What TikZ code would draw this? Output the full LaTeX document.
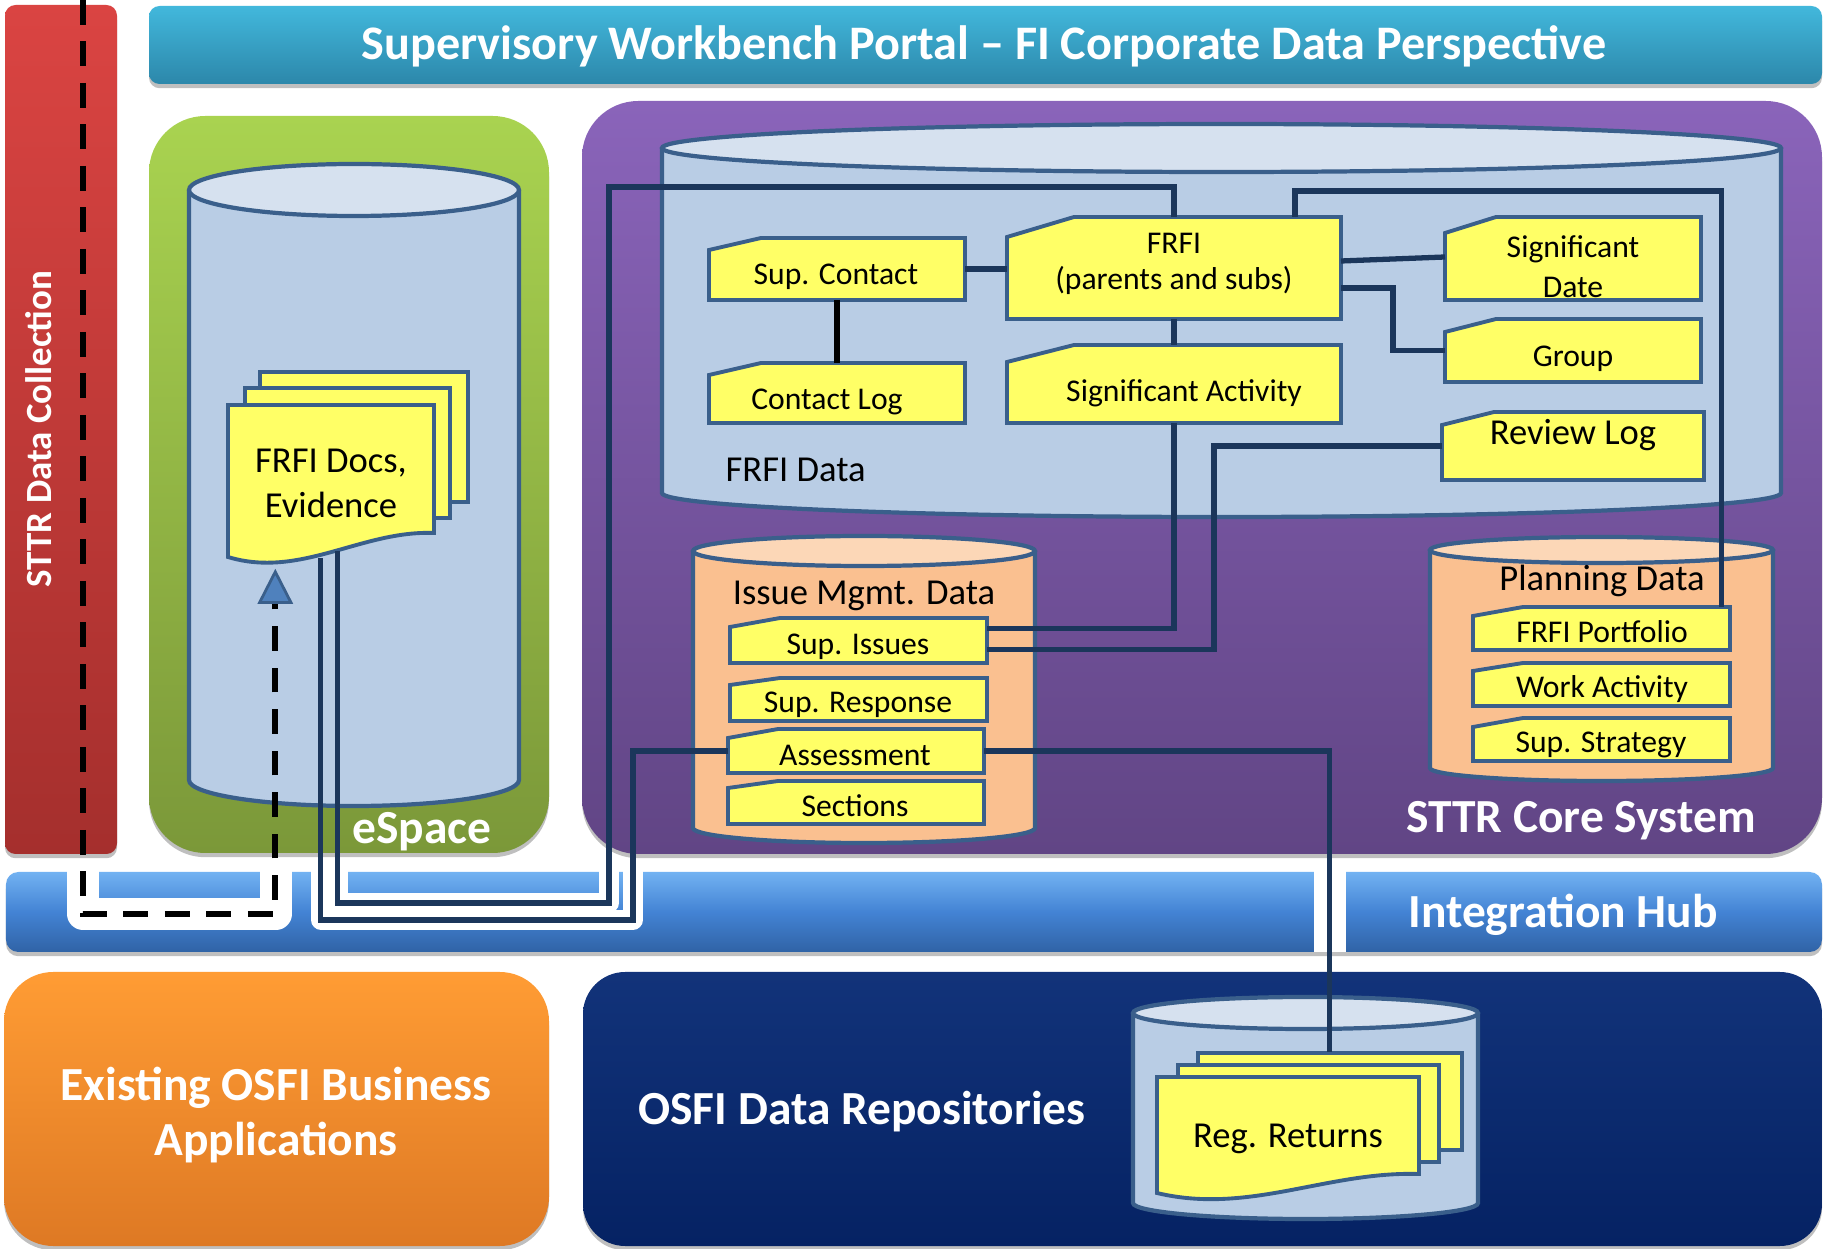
\documentclass[tikz,border=0pt]{standalone}
\usepackage{fontspec}
\setmainfont{Carlito}
\usepackage{tikz}
\usetikzlibrary{calc}
\usetikzlibrary{arrows.meta}
\usetikzlibrary{fit}
\usetikzlibrary{shadows}

\definecolor{rougeHaut}{HTML}{DA4442}
\definecolor{rougeBas}{HTML}{A52F2D}
\definecolor{cyanHaut}{HTML}{42B8DC}
\definecolor{cyanBas}{HTML}{2C87AA}
\definecolor{vertHaut}{HTML}{A9D350}
\definecolor{vertBas}{HTML}{7B9839}
\definecolor{violetHaut}{HTML}{8A64BA}
\definecolor{violetBas}{HTML}{614585}
\definecolor{hubHaut}{HTML}{72B2F2}
\definecolor{hubMilieu}{HTML}{4383D4}
\definecolor{hubBas}{HTML}{3063A6}
\definecolor{orangeHaut}{HTML}{FF9C34}
\definecolor{orangeBas}{HTML}{DE7924}
\definecolor{marineHaut}{HTML}{12337A}
\definecolor{marineBas}{HTML}{052263}
\definecolor{bleuCyl}{HTML}{B9CDE5}
\definecolor{bleuCylHaut}{HTML}{D6E1EF}
\definecolor{bordCyl}{HTML}{3A5F8B}
\definecolor{peche}{HTML}{FAC090}
\definecolor{pecheHaut}{HTML}{FCD7B7}
\definecolor{jaune}{HTML}{FFFF66}
\definecolor{lienCol}{HTML}{1B365B}
\definecolor{pointeBleu}{HTML}{4F81BD}

\tikzstyle{ombre}      =[drop shadow={shadow xshift=0pt,shadow yshift=-1.2pt,opacity=.25,fill=black}]
\tikzstyle{bordcyl}    =[draw=bordCyl, line width=1.2pt]
\tikzstyle{fiche}      =[draw=bordCyl, line width=1.1pt, fill=jaune]
\tikzstyle{lien}       =[draw=lienCol, line width=1.5pt]
\tikzstyle{pointille}  =[black, line width=1.6pt, dash pattern=on 7pt off 4.8pt]
\tikzstyle{haloFin}    =[white, line width=5.6pt, line join=round]
\tikzstyle{haloLarge}  =[white, line width=9pt, line join=round]
\tikzstyle{grandtexte} =[text=white, inner sep=0pt, font=\fontsize{13.5}{15.9}\selectfont\bfseries]
\tikzstyle{moyentexte} =[text=black, inner sep=0pt, font=\fontsize{10.4}{12.8}\selectfont]
\tikzstyle{petittexte} =[text=black, inner sep=0pt, font=\fontsize{9}{10.2}\selectfont]

%cylindre : x gauche, x droit, y haut, y bas, demi-hauteur de l'ellipse, remplissage, dessus
\newcommand{\cylindre}[7]{%
  \fill[#6] (#1,#3) -- (#1,#4) arc[start angle=180,end angle=0,x radius={(#2-#1)/2},y radius=#5] -- (#2,#3) -- cycle;
  \draw[bordcyl] (#1,#3) -- (#1,#4) arc[start angle=180,end angle=0,x radius={(#2-#1)/2},y radius=#5] -- (#2,#3);
  \draw[bordcyl,fill=#7] ({(#1+#2)/2},#3) ellipse [x radius={(#2-#1)/2},y radius=#5];
}

%fiche : nom, x gauche, y haut, x droit, y bas, hauteur du biais, largeur du biais
\newcommand{\fiche}[7]{%
  \draw[fiche] (#2,#3+#6) -- (#2+#7,#3) -- (#4,#3) -- (#4,#5) -- (#2,#5) -- cycle;
  \node[fit={(#2,#3) (#4,#5)}, inner sep=0pt, outer sep=0pt] (#1) {};
}

%feuille ondulée : x gauche, y haut, x droit, y bas droit, y bas gauche
\newcommand{\feuille}[5]{%
  \draw[fiche] (#1,#2) -- (#3,#2) -- (#3,#4) .. controls ({#3-0.35*(#3-#1)},{#4-3}) and ({#1+0.35*(#3-#1)},{#5+22}) .. (#1,#5) -- cycle;
}

\begin{document}
\begin{tikzpicture}[x=0.01cm,y=-0.01cm]

\fill[white] (0,0) rectangle (1826,1249);
\useasboundingbox (0,0) rectangle (1826,1249);

%%%%%%%%%%%%%%%%%%%%%%%%
%Blocs principaux
%%%%%%%%%%%%%%%%%%%%%%%%

\shade[ombre, top color=rougeHaut, bottom color=rougeBas, rounded corners=3pt] (5,5) rectangle (117,854);
\node[grandtexte, font=\fontsize{10.5}{12}\selectfont\bfseries, rotate=90] (collecte) at (39,429) {STTR Data Collection};

\shade[ombre, top color=cyanHaut, bottom color=cyanBas, rounded corners=3pt] (149,6) rectangle (1822,84);
\node[grandtexte, anchor=base, font=\fontsize{13.7}{16}\selectfont\bfseries] (portail) at (984,60) {Supervisory Workbench Portal – FI Corporate Data Perspective};

\shade[ombre, top color=vertHaut, bottom color=vertBas, rounded corners=16pt] (149,116) rectangle (549,853);
\shade[ombre, top color=violetHaut, bottom color=violetBas, rounded corners=16pt] (582,101) rectangle (1822,854);

%%%%%%%%%%%%%%%%%%%%%%%%
%eSpace
%%%%%%%%%%%%%%%%%%%%%%%%

\cylindre{189}{519}{190}{780}{26}{bleuCyl}{bleuCylHaut}
\draw[fiche] (260,372) rectangle (468,502);
\draw[fiche] (245,388) rectangle (450,518);
\feuille{228}{405}{434}{533}{557}
\node[fit={(228,372) (468,565)}, inner sep=0pt] (docs) {};
\node[moyentexte, align=center] (docstxt) at (331,483) {FRFI Docs,\\Evidence};
\node[grandtexte, anchor=base] (espace) at (422,844) {eSpace};

%%%%%%%%%%%%%%%%%%%%%%%%
%STTR Core System
%%%%%%%%%%%%%%%%%%%%%%%%

\cylindre{662}{1781}{148}{493}{24}{bleuCyl}{bleuCylHaut}
\node[moyentexte, anchor=base west] (frfidata) at (725,482) {FRFI Data};

\fiche{supc}{709}{238}{965}{300}{12}{52}
\fiche{clog}{709}{363}{965}{423}{12}{52}
\fiche{frfi}{1007}{217}{1341}{319}{20}{67}
\fiche{sact}{1007}{345}{1341}{423}{17}{67}
\fiche{sdate}{1445}{217}{1701}{300}{16}{51}
\fiche{group}{1445}{319}{1701}{382}{13}{51}
\fiche{rlog}{1442}{412}{1704}{480}{13}{52}

\node[petittexte, anchor=base] at (836,285) {Sup. Contact};
\node[petittexte, anchor=base] at (827,410) {Contact Log};
\node[petittexte, align=center] at (1174,264) {FRFI\\(parents and subs)};
\node[petittexte, anchor=base] at (1184,402) {Significant Activity};
\node[petittexte, align=center, font=\fontsize{9}{11.3}\selectfont] at (1573,267) {Significant\\Date};
\node[petittexte, anchor=base] at (1573,367) {Group};
\node[moyentexte, anchor=base] at (1573,445) {Review Log};

\cylindre{693}{1035}{551}{828}{15}{peche}{pecheHaut}
\node[moyentexte, anchor=base] (issue) at (864,605) {Issue Mgmt. Data};
\fiche{sissue}{730}{618}{987}{663}{9}{50}
\fiche{sresp}{730}{678}{987}{721}{7}{50}
\fiche{assess}{728}{729}{984}{773}{9}{50}
\fiche{sect}{728}{781}{984}{824}{7}{50}
\node[petittexte, anchor=base] at (858,655) {Sup. Issues};
\node[petittexte, anchor=base] at (858,713) {Sup. Response};
\node[petittexte, anchor=base] at (855,766) {Assessment};
\node[petittexte, anchor=base] at (855,817) {Sections};

\cylindre{1430}{1773}{550}{768}{13}{peche}{pecheHaut}
\node[moyentexte, anchor=base] (planning) at (1602,591) {Planning Data};
\fiche{portf}{1473}{607}{1730}{650}{9}{50}
\fiche{wact}{1473}{663}{1730}{706}{8}{50}
\fiche{sstrat}{1473}{718}{1730}{761}{9}{50}
\node[petittexte, anchor=base] at (1602,643) {FRFI Portfolio};
\node[petittexte, anchor=base] at (1602,698) {Work Activity};
\node[petittexte, anchor=base] at (1601,753) {Sup. Strategy};

\node[grandtexte, anchor=base] (coeur) at (1581,833) {STTR Core System};

%%%%%%%%%%%%%%%%%%%%%%%%
%Integration Hub
%%%%%%%%%%%%%%%%%%%%%%%%

\shade[ombre, top color=hubHaut, bottom color=hubBas, middle color=hubMilieu, rounded corners=3.5pt] (6,872) rectangle (1822,952);
\begin{scope}
\clip (6,872) rectangle (1822,952);
\draw[haloLarge] (83,860) -- (83,914) -- (276,914) -- (276,860);
\draw[haloFin] (321,860) -- (321,920) -- (633,920) -- (633,860);
\draw[haloFin] (338,860) -- (338,903) -- (609,903) -- (609,860);
\draw[haloLarge] (1330,860) -- (1330,960);
\end{scope}
\node[grandtexte, anchor=base] (hub) at (1563,928) {Integration Hub};

%%%%%%%%%%%%%%%%%%%%%%%%
%Blocs du bas
%%%%%%%%%%%%%%%%%%%%%%%%

\shade[ombre, top color=orangeHaut, bottom color=orangeBas, rounded corners=14pt] (4,972) rectangle (549,1246);
\node[grandtexte, align=center] (applis) at (276,1115) {Existing OSFI Business\\Applications};

\shade[ombre, top color=marineHaut, bottom color=marineBas, rounded corners=12pt] (583,972) rectangle (1822,1246);
\node[grandtexte, anchor=base] (depots) at (862,1125) {OSFI Data Repositories};

\cylindre{1133}{1478}{1013}{1203}{16}{bleuCyl}{bleuCylHaut}
\draw[fiche] (1198,1053) rectangle (1462,1150);
\draw[fiche] (1178,1065) rectangle (1439,1162);
\feuille{1157}{1077}{1419}{1174}{1193}
\node[fit={(1157,1053) (1462,1198)}, inner sep=0pt] (regdocs) {};
\node[moyentexte, anchor=base] at (1288,1147) {Reg. Returns};

%%%%%%%%%%%%%%%%%%%%%%%%
%Liens
%%%%%%%%%%%%%%%%%%%%%%%%

\coordinate (depart) at (83,0); %haut du pointillé
\coordinate (docsA) at ($(docs.south west)+(110,-15)$);
\coordinate (docsB) at ($(docs.south west)+(93,-8)$);
\coordinate (docsC) at ($(docs.south west)+(48,3)$);
\coordinate (regHaut) at ($(regdocs.north west)+(173,0)$);

\draw[lien] (supc.east) -- (supc.east -| frfi.west);
\draw[lien, draw=black, line width=1.7pt] (supc.south) -- (clog.north);
\draw[lien] (frfi.south) -- (sact.north);
\draw[lien] ($(frfi.east)+(0,-7)$) -- ($(sdate.west)+(0,-1.5)$);
\draw[lien] ($(frfi.east)+(0,20)$) -| ($(group.west)+(-52,0)$) -- (group.west);
\draw[lien] ($(frfi.north)+(121,0)$) -- ++(0,-26) -| ($(portf.north)+(120,0)$);
\draw[lien] (sact.south) |- ($(sissue.east)+(0,-12)$);
\draw[lien] (rlog.west) -| ($(sissue.east)+(227,9)$) -- ($(sissue.east)+(0,9)$);
\draw[lien] (frfi.north) -- ++(0,-30) -| (609,903) -| (docsA);
\draw[lien] (assess.west) -| (633,920) -| (docsB);
\draw[lien] (assess.east) -| (regHaut);

\draw[pointille, -{Triangle[length=10pt,width=10pt,fill=pointeBleu,color=bordCyl,line width=.8pt]}] (depart) -- (83,914) -| (docsC);

\end{tikzpicture}
\end{document}
